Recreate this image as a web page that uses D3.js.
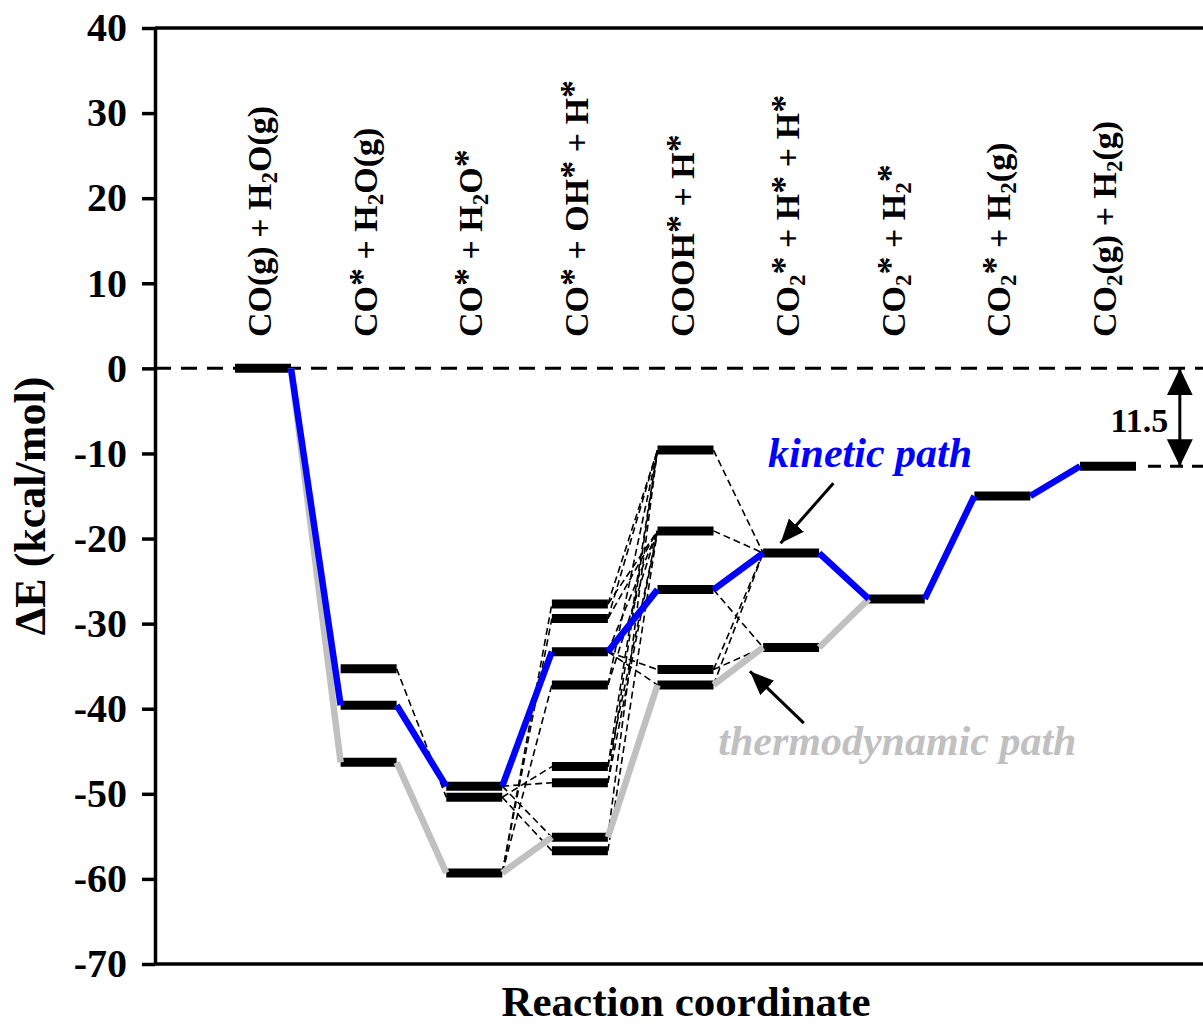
<!DOCTYPE html>
<html>
<head>
  <meta charset="utf-8">
  <title>Energy profile</title>
  <script src="https://d3js.org/d3.v7.min.js"></script>
  <style>
    body { margin: 0; background: #fff; }
    svg { display: block; font-family: "Liberation Serif", "Times New Roman", serif; font-weight: bold; }
  </style>
</head>
<body>
  <svg width="1203" height="1026"></svg>
  <script>
    // states along the reaction coordinate ("_2" = subscript)
    var stateLabels = ["CO(g) + H_2O(g)", "CO* + H_2O(g)", "CO* + H_2O*", "CO* + OH* + H*", "COOH* + H*",
      "CO_2* + H* + H*", "CO_2* + H_2*", "CO_2* + H_2(g)", "CO_2(g) + H_2(g)"];

    // energy levels of each state (kcal/mol)
    var levels = [
      [0],
      [-35.3, -39.6, -46.3],
      [-49.1, -50.4, -59.3],
      [-27.7, -29.4, -33.3, -37.2, -46.8, -48.7, -55.1, -56.7],
      [-9.6, -19.1, -26.0, -35.4, -37.2],
      [-21.7, -32.8],
      [-27.1],
      [-15.0],
      [-11.5]
    ];

    // which level is used in every step
    var kineticPath = [0, 1, 0, 2, 2, 0, 0, 0, 0];
    var thermoPath = [0, 2, 2, 6, 4, 1, 0];

    // other possible connections: [step, level in step, level in next step]
    var otherLinks = [
      [1, 0, 1],
      [2, 0, 5], [2, 1, 4], [2, 0, 6], [2, 1, 7], [2, 2, 0], [2, 2, 1], [2, 2, 3],
      [3, 0, 0], [3, 1, 0], [3, 3, 0], [3, 4, 0], [3, 5, 0], [3, 6, 0],
      [3, 0, 1], [3, 1, 1], [3, 2, 1], [3, 3, 1], [3, 4, 1], [3, 5, 1], [3, 7, 1],
      [3, 2, 3], [3, 2, 4],
      [4, 0, 0], [4, 1, 0], [4, 3, 0], [4, 4, 0], [4, 2, 1], [4, 3, 1]
    ];

    var yTicks = [40, 30, 20, 10, 0, -10, -20, -30, -40, -50, -60, -70];
    var finalGap = 11.5;

    var svg = d3.select("svg");
    var W = +svg.attr("width");
    var left = 155;
    var half = 28;

    var x = d3.scaleLinear().domain([0, 8]).range([263, 1108]);
    var y = d3.scaleLinear().domain([-70, 40]).range([964, 28]);

    // arrow heads
    var defs = svg.append("defs");
    defs.append("marker").attr("id", "head")
      .attr("markerUnits", "userSpaceOnUse")
      .attr("markerWidth", 26).attr("markerHeight", 22)
      .attr("refX", 24).attr("refY", 10)
      .attr("orient", "auto")
      .append("path").attr("d", "M0,0 L24,10 L0,20 Z").attr("fill", "black");
    defs.append("marker").attr("id", "bighead")
      .attr("markerUnits", "userSpaceOnUse")
      .attr("markerWidth", 30).attr("markerHeight", 28)
      .attr("refX", 27).attr("refY", 13)
      .attr("orient", "auto-start-reverse")
      .append("path").attr("d", "M0,0 L27,13 L0,26 Z").attr("fill", "black");

    // zero reference line
    svg.append("line")
      .attr("x1", left).attr("x2", W)
      .attr("y1", y(0)).attr("y2", y(0))
      .attr("stroke", "black").attr("stroke-width", 3)
      .attr("stroke-dasharray", "16,10");

    // frame lines top and bottom
    [40, -70].forEach(function (v) {
      svg.append("line")
        .attr("x1", left).attr("x2", W)
        .attr("y1", y(v)).attr("y2", y(v))
        .attr("stroke", "black").attr("stroke-width", 3.5);
    });

    // y axis
    var yAxis = svg.append("g")
      .attr("transform", "translate(" + left + ",0)")
      .call(d3.axisLeft(y).tickValues(yTicks).tickSize(13).tickSizeOuter(0).tickPadding(15)
        .tickFormat(function (d) { return String(d); }));
    yAxis.select(".domain").attr("stroke-width", 3.5);
    yAxis.selectAll(".tick line").attr("stroke-width", 3.5);
    yAxis.selectAll(".tick text")
      .attr("font-size", 40)
      .attr("font-family", "Liberation Serif, Times New Roman, serif")
      .attr("font-weight", "bold")
      .attr("fill", "black");

    // dashed connections
    svg.append("g").selectAll("line")
      .data(otherLinks)
      .enter().append("line")
      .attr("x1", function (d) { return x(d[0]) + half; })
      .attr("x2", function (d) { return x(d[0] + 1) - half; })
      .attr("y1", function (d) { return y(levels[d[0]][d[1]]); })
      .attr("y2", function (d) { return y(levels[d[0] + 1][d[2]]); })
      .attr("stroke", "black").attr("stroke-width", 1.6)
      .attr("stroke-dasharray", "7,4");

    // energy levels
    var bars = [];
    levels.forEach(function (lv, i) {
      lv.forEach(function (v) { bars.push({ step: i, value: v }); });
    });
    svg.append("g").selectAll("line")
      .data(bars)
      .enter().append("line")
      .attr("x1", function (d) { return x(d.step) - half; })
      .attr("x2", function (d) { return x(d.step) + half; })
      .attr("y1", function (d) { return y(d.value); })
      .attr("y2", function (d) { return y(d.value); })
      .attr("stroke", "black").attr("stroke-width", 9);

    // paths
    function drawPath(path, color) {
      var segs = d3.range(path.length - 1).map(function (i) {
        return [i, levels[i][path[i]], levels[i + 1][path[i + 1]]];
      });
      svg.append("g").selectAll("line")
        .data(segs)
        .enter().append("line")
        .attr("x1", function (d) { return x(d[0]) + half; })
        .attr("x2", function (d) { return x(d[0] + 1) - half; })
        .attr("y1", function (d) { return y(d[1]); })
        .attr("y2", function (d) { return y(d[2]); })
        .attr("stroke", color).attr("stroke-width", 6.5);
    }
    drawPath(thermoPath, "#c0c0c0");
    drawPath(kineticPath, "#0000ff");

    // state labels, rotated
    stateLabels.forEach(function (lab, i) {
      var t = svg.append("text")
        .attr("transform", "translate(" + (x(i) + 8) + ",337) rotate(-90)")
        .attr("font-size", 34);
      var tokens = lab.match(/_\d|\*|[^_*]+/g);
      var shift = 0;
      tokens.forEach(function (tok) {
        var s = t.append("tspan");
        var target = 0;
        if (tok[0] === "_") {
          s.text(tok.slice(1)).attr("font-size", 23);
          target = 6;
        } else if (tok === "*") {
          s.text("*").attr("font-size", 36);
          target = -3;
        } else {
          s.text(tok);
        }
        s.attr("dy", target - shift);
        shift = target;
      });
    });

    // axis titles
    svg.append("text")
      .attr("transform", "translate(45,506) rotate(-90)")
      .attr("text-anchor", "middle")
      .attr("font-size", 44)
      .text("ΔE (kcal/mol)");
    svg.append("text")
      .attr("x", 686).attr("y", 1016)
      .attr("text-anchor", "middle")
      .attr("font-size", 43)
      .text("Reaction coordinate");

    // path annotations
    svg.append("text")
      .attr("x", x(4.78)).attr("y", y(-11.55))
      .attr("font-size", 42).attr("font-style", "italic")
      .attr("fill", "#0000ff")
      .text("kinetic path");
    svg.append("text")
      .attr("x", x(4.31)).attr("y", y(-45.4))
      .attr("font-size", 42).attr("font-style", "italic")
      .attr("fill", "#c0c0c0")
      .text("thermodynamic path");

    var arrows = [
      [5.4, -13.5, 4.9, -20.55],
      [5.12, -41.7, 4.61, -35.6]
    ];
    svg.append("g").selectAll("line")
      .data(arrows)
      .enter().append("line")
      .attr("x1", function (d) { return x(d[0]); })
      .attr("y1", function (d) { return y(d[1]); })
      .attr("x2", function (d) { return x(d[2]); })
      .attr("y2", function (d) { return y(d[3]); })
      .attr("stroke", "black").attr("stroke-width", 3)
      .attr("marker-end", "url(#head)");

    // final energy gap
    svg.append("line")
      .attr("x1", x(8) + half + 12).attr("x2", W)
      .attr("y1", y(-finalGap)).attr("y2", y(-finalGap))
      .attr("stroke", "black").attr("stroke-width", 3)
      .attr("stroke-dasharray", "13,9");
    svg.append("line")
      .attr("x1", x(8.68)).attr("x2", x(8.68))
      .attr("y1", y(0)).attr("y2", y(-finalGap))
      .attr("stroke", "black").attr("stroke-width", 3)
      .attr("marker-start", "url(#bighead)")
      .attr("marker-end", "url(#bighead)");
    svg.append("text")
      .attr("x", x(8.57)).attr("y", y(-7.5))
      .attr("text-anchor", "end")
      .attr("font-size", 34)
      .text(finalGap);
  </script>
</body>
</html>
